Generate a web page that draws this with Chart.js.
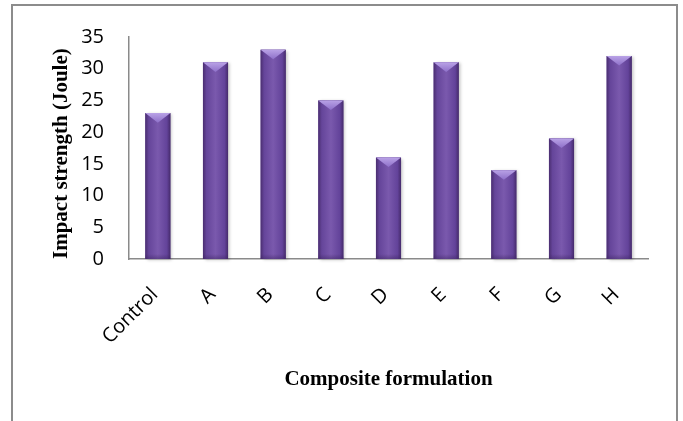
<!DOCTYPE html>
<html>
<head>
<meta charset="utf-8">
<script src="https://cdn.jsdelivr.net/npm/chart.js@4/dist/chart.umd.min.js"></script>
<style>
  html, body { margin: 0; padding: 0; background: #fff; }
  #wrap { width: 683px; height: 421px; position: relative; }
</style>
</head>
<body>
<div id="wrap"><canvas id="chart" width="683" height="421"></canvas></div>
<script>
// Impact strength of each composite formulation
const categories = ['Control', 'A', 'B', 'C', 'D', 'E', 'F', 'G', 'H'];
const impactStrength = [23, 31, 33, 25, 16, 31, 14, 19, 32];
const yTickValues = [0, 5, 10, 15, 20, 25, 30, 35];

const xTitle = 'Composite formulation';
const yTitle = 'Impact strength (Joule)';

// Grey frame around the whole figure (open at the bottom edge)
const frame = {
  id: 'frame',
  beforeDraw(chart) {
    const ctx = chart.ctx;
    ctx.save();
    ctx.fillStyle = '#ffffff';
    ctx.fillRect(0, 0, chart.width, chart.height);
    ctx.strokeStyle = '#8c8c8c';
    ctx.lineWidth = 2;
    ctx.strokeRect(12, 5, 665, chart.height + 20);
    ctx.restore();
  }
};

// Bevelled shading laid over each bar element
const bevelBars = {
  id: 'bevelBars',
  afterDatasetDraw(chart, args) {
    const ctx = chart.ctx;
    args.meta.data.forEach(bar => {
      const { x, y, base, width } = bar.getProps(['x', 'y', 'base', 'width'], true);
      const l = x - width / 2, r = x + width / 2, h = base - y;
      ctx.save();
      const g = ctx.createLinearGradient(l, 0, r, 0);
      g.addColorStop(0, '#4a2e70');
      g.addColorStop(0.14, '#65459a');
      g.addColorStop(0.5, '#7a59ad');
      g.addColorStop(0.86, '#63439a');
      g.addColorStop(1, '#462b6c');
      ctx.shadowColor = 'rgba(0,0,0,0.22)';
      ctx.shadowOffsetX = 2;
      ctx.shadowOffsetY = 1;
      ctx.shadowBlur = 3;
      ctx.fillStyle = g;
      ctx.fillRect(l, y, width, h);
      ctx.shadowColor = 'transparent';
      // darker foot of the bar
      const fg = ctx.createLinearGradient(0, base - 5, 0, base);
      fg.addColorStop(0, 'rgba(60,35,95,0)');
      fg.addColorStop(1, 'rgba(60,35,95,0.45)');
      ctx.fillStyle = fg;
      ctx.fillRect(l, base - 5, width, 5);
      // top facet
      const d = Math.min(width * 0.38, h / 2);
      ctx.beginPath();
      ctx.moveTo(l, y);
      ctx.lineTo(r, y);
      ctx.lineTo(x, y + d);
      ctx.closePath();
      const tg = ctx.createLinearGradient(0, y, 0, y + d);
      tg.addColorStop(0, '#b9a2e6');
      tg.addColorStop(1, '#8e70c9');
      ctx.fillStyle = tg;
      ctx.fill();
      ctx.restore();
    });
  }
};

new Chart(document.getElementById('chart'), {
  type: 'bar',
  data: {
    labels: categories,
    datasets: [{
      data: impactStrength,
      backgroundColor: '#6d4ea2',
      borderWidth: 0,
      categoryPercentage: 1,
      barPercentage: 0.435
    }]
  },
  options: {
    responsive: false,
    animation: false,
    devicePixelRatio: 1,
    layout: { padding: { left: 0, top: 36, right: 35, bottom: 0 } },
    plugins: {
      legend: { display: false },
      tooltip: { enabled: false }
    },
    scales: {
      x: {
        grid: { display: false, drawTicks: false },
        border: { display: true, color: '#8a8a8a', width: 1.5 },
        ticks: {
          color: '#000',
          font: { family: '"Open Sans"', size: 20 },
          minRotation: 45,
          maxRotation: 45,
          padding: 24,
          labelOffset: -3
        },
        title: {
          display: true,
          text: xTitle,
          color: '#000',
          font: { family: '"Liberation Serif"', size: 21, weight: 'bold' },
          padding: { top: 0, bottom: 29 }
        },
        afterFit(scale) { scale.height = 162; }
      },
      y: {
        min: 0,
        max: 35,
        afterBuildTicks(scale) { scale.ticks = yTickValues.map(v => ({ value: v })); },
        grid: { display: false, drawTicks: false },
        border: { display: true, color: '#8a8a8a', width: 1.5 },
        ticks: {
          color: '#000',
          font: { family: '"Open Sans"', size: 20 },
          padding: 25
        },
        title: {
          display: true,
          text: yTitle,
          align: 'start',
          color: '#000',
          font: { family: '"Liberation Serif"', size: 21, weight: 'bold' },
          padding: { top: 49, bottom: 0 }
        },
        afterFit(scale) { scale.width = 129; }
      }
    }
  },
  plugins: [frame, bevelBars]
});
</script>
</body>
</html>
